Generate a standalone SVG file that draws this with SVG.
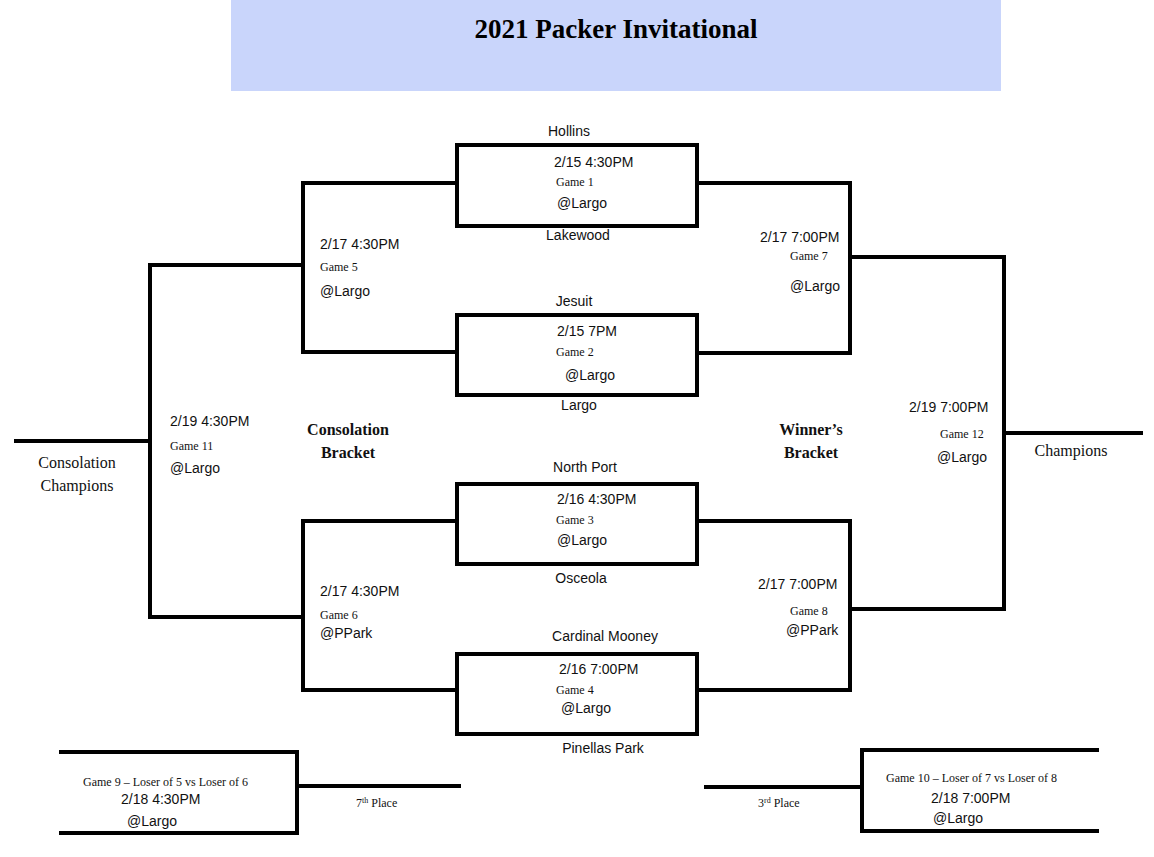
<svg xmlns="http://www.w3.org/2000/svg" width="1154" height="857" viewBox="0 0 1154 857">
<style>
.l{fill:none;stroke:#000;stroke-width:4}
.s{font-family:"Liberation Sans",Arial,sans-serif;font-size:14px;fill:#111}
.r{font-family:"Liberation Serif","Times New Roman",serif;font-size:12px;fill:#111}
.rb{font-family:"Liberation Serif","Times New Roman",serif;font-size:16px;font-weight:bold;fill:#111}
.rm{font-family:"Liberation Serif","Times New Roman",serif;font-size:16px;fill:#111}
</style>
<rect width="1154" height="857" fill="#fff"/>
<g id="title"><rect x="231" y="0" width="770" height="91" fill="#c9d5fb"/>
<text x="616" y="38" text-anchor="middle" font-family="Liberation Serif,serif" font-weight="bold" font-size="27">2021 Packer Invitational</text></g>
<g id="connectors">
<path class="l" d="M457,183H303V352H457M303,265H150V617H303M14,441H150M457,521H303V690H457"/>
<path class="l" d="M697,183H850V353H697M850,257H1004V609H850M1004,433H1143M697,521H850V690H697"/>
<path class="l" d="M59,752H297V833H59M297,786H461"/>
<path class="l" d="M1099,750H862V831H1099M862,787H704"/>
</g>
<g id="game1"><rect class="l" x="457" y="145" width="240" height="81"/>
<text class="s" x="569" y="136" text-anchor="middle">Hollins</text>
<text class="s" x="554" y="167">2/15 4:30PM</text><text class="r" x="556" y="186">Game 1</text><text class="s" x="557" y="208">@Largo</text>
<text class="s" x="578" y="240" text-anchor="middle">Lakewood</text></g>
<g id="game2"><rect class="l" x="457" y="315" width="240" height="80"/>
<text class="s" x="574" y="306" text-anchor="middle">Jesuit</text>
<text class="s" x="557" y="336">2/15 7PM</text><text class="r" x="556" y="356">Game 2</text><text class="s" x="565" y="380">@Largo</text>
<text class="s" x="579" y="410" text-anchor="middle">Largo</text></g>
<g id="game3"><rect class="l" x="457" y="484" width="240" height="80"/>
<text class="s" x="585" y="472" text-anchor="middle">North Port</text>
<text class="s" x="557" y="504">2/16 4:30PM</text><text class="r" x="556" y="524">Game 3</text><text class="s" x="557" y="545">@Largo</text>
<text class="s" x="581" y="583" text-anchor="middle">Osceola</text></g>
<g id="game4"><rect class="l" x="457" y="654" width="240" height="80"/>
<text class="s" x="605" y="641" text-anchor="middle">Cardinal Mooney</text>
<text class="s" x="559" y="674">2/16 7:00PM</text><text class="r" x="556" y="694">Game 4</text><text class="s" x="561" y="713">@Largo</text>
<text class="s" x="603" y="753" text-anchor="middle">Pinellas Park</text></g>
<g id="game5"><text class="s" x="320" y="249">2/17 4:30PM</text><text class="r" x="320" y="271">Game 5</text><text class="s" x="320" y="296">@Largo</text></g>
<g id="game6"><text class="s" x="320" y="596">2/17 4:30PM</text><text class="r" x="320" y="619">Game 6</text><text class="s" x="320" y="638">@PPark</text></g>
<g id="game7"><text class="s" x="760" y="242">2/17 7:00PM</text><text class="r" x="790" y="260">Game 7</text><text class="s" x="790" y="291">@Largo</text></g>
<g id="game8"><text class="s" x="758" y="589">2/17 7:00PM</text><text class="r" x="790" y="615">Game 8</text><text class="s" x="786" y="635">@PPark</text></g>
<g id="game11"><text class="s" x="170" y="426">2/19 4:30PM</text><text class="r" x="170" y="450">Game 11</text><text class="s" x="170" y="473">@Largo</text></g>
<g id="game12"><text class="s" x="909" y="412">2/19 7:00PM</text><text class="r" x="940" y="438">Game 12</text><text class="s" x="937" y="462">@Largo</text></g>
<g id="labels">
<text class="rb" x="348" y="435" text-anchor="middle">Consolation</text><text class="rb" x="348" y="458" text-anchor="middle">Bracket</text>
<text class="rb" x="811" y="435" text-anchor="middle">Winner’s</text><text class="rb" x="811" y="458" text-anchor="middle">Bracket</text>
<text class="rm" x="77" y="468" text-anchor="middle">Consolation</text><text class="rm" x="77" y="491" text-anchor="middle">Champions</text>
<text class="rm" x="1071" y="456" text-anchor="middle">Champions</text>
</g>
<g id="game9"><text class="r" x="83" y="786">Game 9 – Loser of 5 vs Loser of 6</text><text class="s" x="121" y="804">2/18 4:30PM</text><text class="s" x="127" y="826">@Largo</text>
<text class="r" x="356" y="807" font-size="11">7<tspan dy="-4" font-size="8">th</tspan><tspan dy="4"> Place</tspan></text></g>
<g id="game10"><text class="r" x="886" y="782">Game 10 – Loser of 7 vs Loser of 8</text><text class="s" x="931" y="803">2/18 7:00PM</text><text class="s" x="933" y="823">@Largo</text>
<text class="r" x="758" y="807" font-size="11">3<tspan dy="-4" font-size="8">rd</tspan><tspan dy="4"> Place</tspan></text></g>
</svg>
